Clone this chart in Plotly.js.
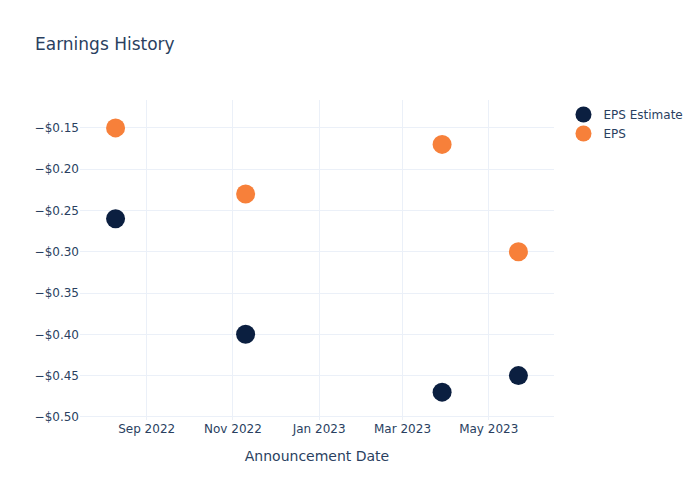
<!DOCTYPE html>
<html>
<head>
<meta charset="utf-8">
<script src="https://cdn.plot.ly/plotly-3.0.1.min.js"></script>
<style>html,body{margin:0;padding:0;}#chart{width:700px;height:500px;}</style>
</head>
<body>
<div id="chart"></div>
<script>
const dates = ["2022-08-10", "2022-11-10", "2023-03-29", "2023-05-22"];
const epsEstimate = [-0.26, -0.40, -0.47, -0.45];
const epsActual = [-0.15, -0.23, -0.17, -0.30];

const traces = [
  {x: dates, y: epsEstimate, name: "EPS Estimate", type: "scatter", mode: "markers",
   marker: {color: "#0b1f40", size: 19}},
  {x: dates, y: epsActual, name: "EPS", type: "scatter", mode: "markers",
   marker: {color: "#f7803a", size: 19}}
];

const gridColor = "#EBF0F8";
const layout = {
  width: 700, height: 500,
  paper_bgcolor: "white", plot_bgcolor: "white",
  font: {family: "'DejaVu Sans', verdana, arial, sans-serif", color: "#2a3f5f", size: 12},
  title: {text: "Earnings History", x: 0.05, font: {size: 17}},
  margin: {l: 80, r: 80, t: 100, b: 80},
  xaxis: {title: {text: "Announcement Date", standoff: 16}, type: "date", gridcolor: gridColor,
          zeroline: false, automargin: true},
  yaxis: {tickformat: "$.2f", gridcolor: gridColor, zeroline: false},
  legend: {x: 1.02, y: 1},
  showlegend: true
};

Plotly.newPlot("chart", traces, layout, {displayModeBar: false});
</script>
</body>
</html>
